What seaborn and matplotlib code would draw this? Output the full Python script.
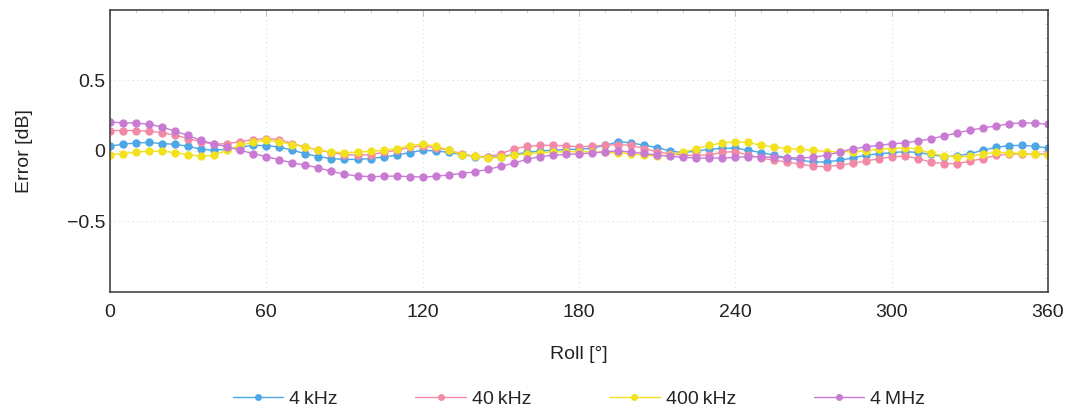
import numpy as np
import pandas as pd
import seaborn as sns
import matplotlib.pyplot as plt
from matplotlib.ticker import MultipleLocator

roll = list(range(0, 361, 5))

err_4khz = [0.035, 0.047, 0.057, 0.06, 0.052, 0.047, 0.033, 0.012, 0.005, 0.012,
            0.028, 0.04, 0.038, 0.028, 0.005, -0.02, -0.04, -0.054, -0.06, -0.06,
            -0.054, -0.043, -0.03, -0.012, 0.005, 0.0, -0.01, -0.026, -0.04, -0.045,
            -0.04, -0.025, -0.01, 0.0, 0.005, 0.01, 0.012, 0.02, 0.04, 0.065,
            0.058, 0.04, 0.024, 0.0, -0.012, 0.0, 0.012, 0.018, 0.02, 0.005,
            -0.012, -0.03, -0.05, -0.066, -0.078, -0.078, -0.066, -0.05, -0.03, -0.02,
            -0.012, -0.005, -0.01, -0.025, -0.04, -0.035, -0.02, 0.005, 0.025, 0.038,
            0.04, 0.033, 0.022]

err_40khz = [0.145, 0.145, 0.145, 0.14, 0.13, 0.112, 0.088, 0.065, 0.048, 0.052,
             0.066, 0.08, 0.088, 0.08, 0.052, 0.028, 0.005, -0.012, -0.026, -0.03,
             -0.026, -0.01, 0.005, 0.025, 0.038, 0.022, 0.005, -0.02, -0.038, -0.04,
             -0.02, 0.015, 0.032, 0.04, 0.04, 0.036, 0.03, 0.033, 0.04, 0.045,
             0.04, 0.017, -0.007, -0.02, -0.03, -0.032, -0.028, -0.01, -0.005, -0.03,
             -0.05, -0.066, -0.078, -0.095, -0.108, -0.112, -0.1, -0.088, -0.072, -0.055,
             -0.043, -0.035, -0.054, -0.078, -0.09, -0.09, -0.073, -0.054, -0.032, -0.022,
             -0.02, -0.02, -0.022]

err_400khz = [-0.026, -0.02, -0.008, -0.002, -0.002, -0.012, -0.026, -0.038, -0.03, 0.005,
              0.04, 0.064, 0.075, 0.064, 0.045, 0.028, 0.005, -0.007, -0.014, -0.008,
              -0.002, 0.005, 0.017, 0.038, 0.05, 0.035, 0.005, -0.026, -0.036, -0.048,
              -0.046, -0.03, -0.02, -0.012, -0.008, -0.006, -0.004, -0.008, -0.01, -0.015,
              -0.02, -0.03, -0.035, -0.028, -0.01, 0.017, 0.04, 0.057, 0.064, 0.06,
              0.04, 0.028, 0.017, 0.012, 0.005, -0.004, -0.007, -0.004, 0.002, 0.012,
              0.017, 0.022, 0.015, -0.018, -0.035, -0.043, -0.038, -0.022, -0.01, -0.012,
              -0.018, -0.024, -0.028]

err_4mhz = [0.205, 0.2, 0.198, 0.19, 0.17, 0.14, 0.11, 0.075, 0.05, 0.03,
            0.005, -0.02, -0.04, -0.062, -0.085, -0.1, -0.12, -0.145, -0.165, -0.178,
            -0.182, -0.18, -0.178, -0.182, -0.185, -0.18, -0.17, -0.16, -0.148, -0.13,
            -0.11, -0.085, -0.06, -0.04, -0.03, -0.025, -0.02, -0.015, -0.005, 0.0,
            -0.008, -0.018, -0.03, -0.038, -0.045, -0.05, -0.05, -0.05, -0.046, -0.04,
            -0.042, -0.045, -0.048, -0.05, -0.045, -0.03, -0.008, 0.015, 0.028, 0.04,
            0.05, 0.058, 0.07, 0.086, 0.106, 0.128, 0.147, 0.163, 0.177, 0.192,
            0.2, 0.198, 0.188]

series = ["4\u2009kHz", "40\u2009kHz", "400\u2009kHz", "4\u2009MHz"]
colors = ["#4da6e6", "#f28aa6", "#f2e21e", "#c97ad2"]

df = pd.concat([
    pd.DataFrame({"roll": roll, "err": vals, "freq": name})
    for name, vals in zip(series, [err_4khz, err_40khz, err_400khz, err_4mhz])
])

sns.set_style("white")
plt.rcParams["font.family"] = ["Liberation Sans", "DejaVu Sans"]

fig = plt.figure(figsize=(10.72, 4.17), dpi=100)
ax = fig.add_axes([0.1026, 0.30, 0.875, 0.676])

sns.lineplot(data=df, x="roll", y="err", hue="freq", palette=colors,
             marker="o", markersize=6, markeredgewidth=0, linewidth=1.0,
             ax=ax, legend=False)

ax.set_xlim(0, 360)
ax.set_ylim(-1, 1)
ax.set_xticks(range(0, 361, 60))
ax.set_yticks([-0.5, 0, 0.5])
ax.set_yticklabels(["\u22120.5", "0", "0.5"])
ax.xaxis.set_minor_locator(MultipleLocator(10))
ax.yaxis.set_minor_locator(MultipleLocator(0.1))
ax.tick_params(which="both", direction="in", top=True, right=True, colors="#c4c4c4",
               labelcolor="#222222", labelsize=14)
ax.tick_params(which="major", length=4)
ax.tick_params(which="minor", length=2)
ax.tick_params(axis="x", pad=9)
ax.grid(True, which="major", linestyle=(0, (1, 3)), color="#dddddd", linewidth=0.8)
for s in ax.spines.values():
    s.set_color("#444444")
    s.set_linewidth(1.2)

ax.set_xlabel("Roll [\u00b0]", fontsize=14, color="#222222", labelpad=18)
ax.set_ylabel("Error [dB]", fontsize=14, color="#222222", labelpad=24)

handles = [plt.Line2D([], [], color=c, marker="o", markersize=5, markeredgewidth=0,
                      linewidth=1.0) for c in colors]
fig.legend(handles, series, loc="lower center", bbox_to_anchor=(0.54, -0.02), ncol=4,
           frameon=False, fontsize=14, handlelength=2.6, handletextpad=0.3,
           columnspacing=4.0, numpoints=1)

fig.savefig("out.png", dpi=100)
